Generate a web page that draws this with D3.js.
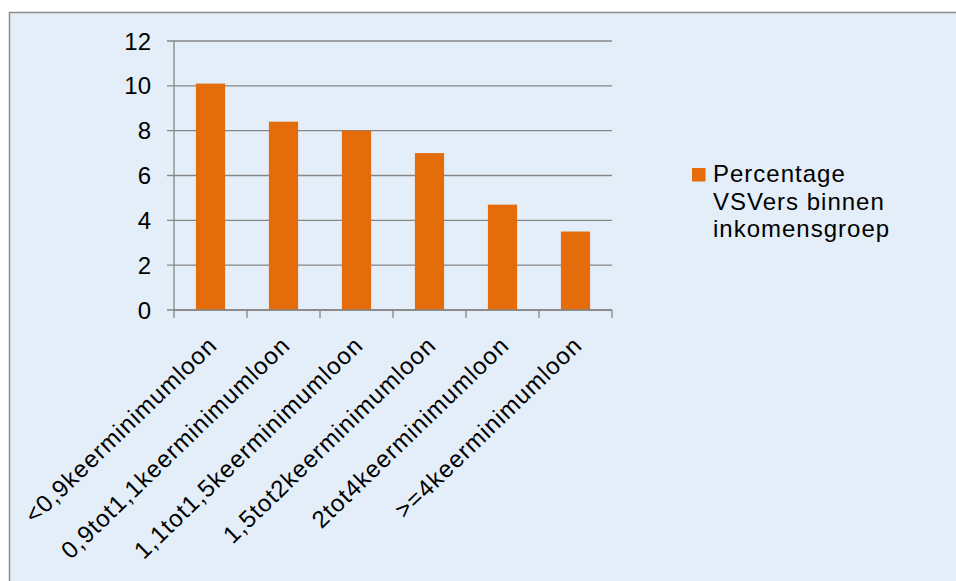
<!DOCTYPE html>
<html>
<head>
<meta charset="utf-8">
<script src="https://cdn.jsdelivr.net/npm/d3@7"></script>
<style>
  body { margin: 0; background: #fff; }
  text { font-family: "Liberation Sans", Arial, sans-serif; fill: #000; }
</style>
</head>
<body>
<svg id="chart" width="956" height="581"></svg>
<script>
// categories and values
var categories = [
  "<0,9keerminimumloon",
  "0,9tot1,1keerminimumloon",
  "1,1tot1,5keerminimumloon",
  "1,5tot2keerminimumloon",
  "2tot4keerminimumloon",
  ">=4keerminimumloon"
]
var values = [10.1, 8.4, 8.0, 7.0, 4.7, 3.5]
var yTicks = [0, 2, 4, 6, 8, 10, 12]
var seriesName = ["Percentage", "VSVers binnen", "inkomensgroep"]

var BAR_COLOR = "#E46C0A"
var GRID_COLOR = "#868686"

var svg = d3.select("#chart")

// chart area: light blue panel with grey border
svg.append("rect")
  .attr("x", 9.5)
  .attr("y", 12.5)
  .attr("width", 960)
  .attr("height", 600)
  .attr("fill", "#E3EEF8")
  .attr("stroke", "#8c8c8c")
  .attr("stroke-width", 1.5)

var plotLeft = 174, plotRight = 612, plotTop = 41, plotBottom = 310

var x = d3.scaleBand()
  .domain(categories)
  .range([plotLeft, plotRight])
  .paddingInner(0.6)
  .paddingOuter(0.3)

var y = d3.scaleLinear()
  .domain([0, 12])
  .range([plotBottom, plotTop])

// horizontal gridlines (with the little tick stub to the left)
svg.selectAll(".grid")
  .data(yTicks)
  .enter().append("line")
  .attr("class", "grid")
  .attr("x1", plotLeft - 7)
  .attr("x2", plotRight)
  .attr("y1", function(d) { return y(d) })
  .attr("y2", function(d) { return y(d) })
  .attr("stroke", GRID_COLOR)
  .attr("stroke-width", 1.3)

svg.selectAll(".ylabel")
  .data(yTicks)
  .enter().append("text")
  .attr("class", "ylabel")
  .attr("x", plotLeft - 23)
  .attr("y", function(d) { return y(d) })
  .attr("dy", "0.36em")
  .attr("text-anchor", "end")
  .style("font-size", "24px")
  .text(function(d) { return d })

// bars
svg.selectAll(".bar")
  .data(values)
  .enter().append("rect")
  .attr("class", "bar")
  .attr("x", function(d, i) { return x(categories[i]) })
  .attr("y", function(d) { return y(d) })
  .attr("width", x.bandwidth())
  .attr("height", function(d) { return y(0) - y(d) })
  .attr("fill", BAR_COLOR)

// axes lines
svg.append("line")
  .attr("x1", plotLeft).attr("x2", plotLeft)
  .attr("y1", plotTop).attr("y2", plotBottom)
  .attr("stroke", GRID_COLOR).attr("stroke-width", 1.3)

svg.append("line")
  .attr("x1", plotLeft).attr("x2", plotRight)
  .attr("y1", plotBottom).attr("y2", plotBottom)
  .attr("stroke", GRID_COLOR).attr("stroke-width", 1.3)

// category boundary ticks below the x axis
var step = x.step()
var bounds = d3.range(categories.length + 1).map(function(i) { return plotLeft + i * step })
svg.selectAll(".xtick")
  .data(bounds)
  .enter().append("line")
  .attr("class", "xtick")
  .attr("x1", function(d) { return d })
  .attr("x2", function(d) { return d })
  .attr("y1", plotBottom)
  .attr("y2", plotBottom + 8)
  .attr("stroke", GRID_COLOR)
  .attr("stroke-width", 1.3)

// rotated category labels, end of the text just right of the bar centre
svg.selectAll(".xlabel")
  .data(categories)
  .enter().append("text")
  .attr("class", "xlabel")
  .attr("text-anchor", "end")
  .style("font-size", "24px")
  .style("letter-spacing", "1px")
  .attr("transform", function(d) {
    var cx = x(d) + x.bandwidth() / 2
    return "translate(" + (cx + 8) + "," + (plotBottom + 37) + ") rotate(-44)"
  })
  .text(function(d) { return d })

// legend
var legend = svg.append("g").attr("transform", "translate(692,168)")
legend.append("rect")
  .attr("width", 13.5)
  .attr("height", 13.5)
  .attr("fill", BAR_COLOR)
legend.selectAll("text")
  .data(seriesName)
  .enter().append("text")
  .attr("x", 21)
  .attr("y", function(d, i) { return 14 + i * 27.5 })
  .style("font-size", "24px")
  .style("letter-spacing", "1px")
  .text(function(d) { return d })
</script>
</body>
</html>
